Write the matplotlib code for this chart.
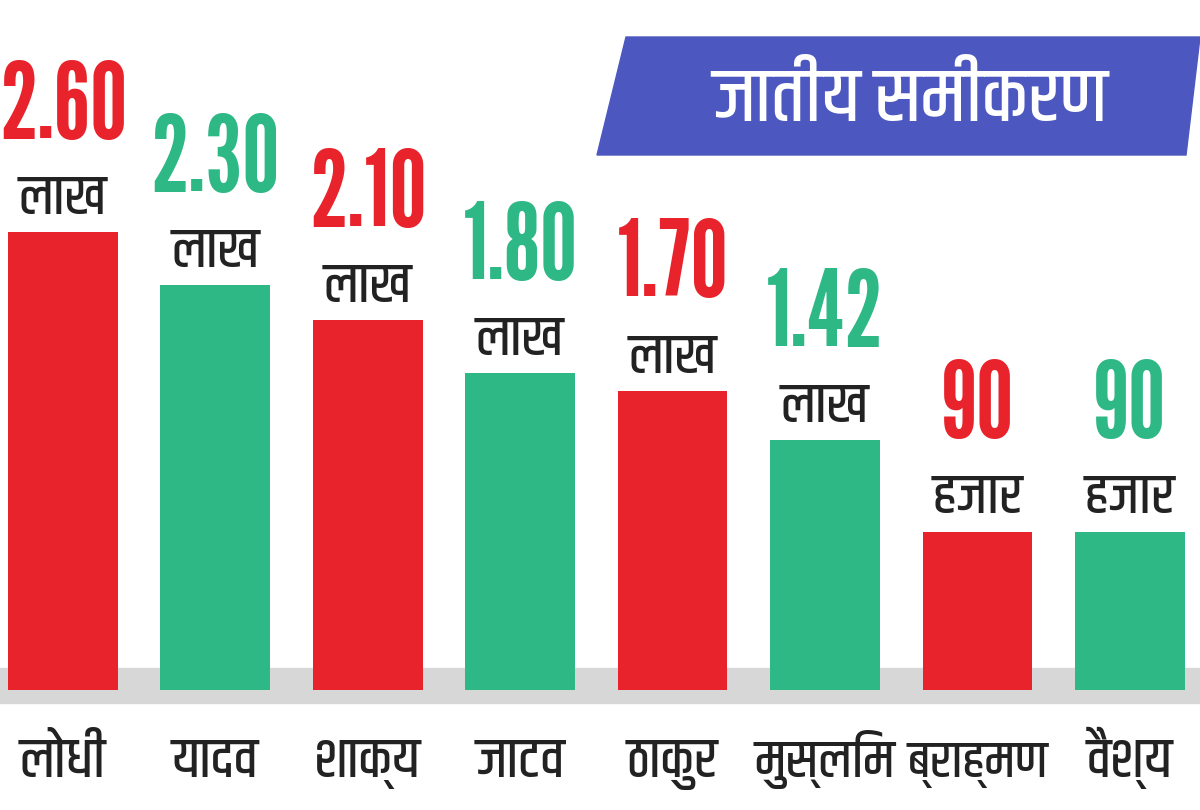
import matplotlib
matplotlib.use('Agg')
import matplotlib.pyplot as plt
from matplotlib.patches import Polygon

castes = ['लोधी', 'यादव', 'शाक्य', 'जाटव', 'ठाकुर', 'मुस्लिम', 'ब्राह्मण', 'वैश्य']
values = [2.60, 2.30, 2.10, 1.80, 1.70, 1.42, 0.90, 0.90]  # in lakh
value_text = ['2.60', '2.30', '2.10', '1.80', '1.70', '1.42', '90', '90']
unit_text = ['लाख', 'लाख', 'लाख', 'लाख', 'लाख', 'लाख', 'हजार', 'हजार']
title = 'जातीय समीकरण'

RED = '#e9232b'
GREEN = '#2eb886'
colors = [RED if i % 2 == 0 else GREEN for i in range(len(values))]
DEVA = ['Khand', 'Noto Sans Devanagari', 'DejaVu Sans']
NUM = ['League Gothic', 'Bebas Neue', 'Khand', 'DejaVu Sans']

fig = plt.figure(figsize=(12, 8.1), dpi=100)
ax = fig.add_axes([0, 0, 1, 1])
ax.set_xlim(-0.413, 7.46)
ax.set_ylim(-0.682, 3.92)
ax.axis('off')

# grey floor strip behind the bars
ax.axhspan(-13 / 176, 22 / 176, color='#d7d7d7', zorder=1)

x = range(len(values))
ax.bar(x, values, width=0.72, color=colors, zorder=2)

cat_texts = []
for i, v in enumerate(values):
    ax.annotate(unit_text[i], (i, v), xytext=(0, 13), textcoords='offset points',
                ha='center', va='baseline', fontsize=40, family=DEVA,
                weight='medium', color='#222222')
    ax.annotate(value_text[i], (i, v), xytext=(0, 68), textcoords='offset points',
                ha='center', va='baseline', fontsize=76, family=NUM,
                color=colors[i])
    t = ax.annotate(castes[i], (i, 0), xytext=(0, -63), textcoords='offset points',
                    ha='center', va='baseline', fontsize=40, family=DEVA,
                    weight='medium', color='#222222')
    cat_texts.append(t)

# shrink category names that would run into their neighbours
renderer = fig.canvas.get_renderer()
for t in cat_texts:
    w = t.get_window_extent(renderer).width
    if w > 140:
        t.set_fontsize(40 * 140 / w)

# title banner
W, H = 1200, 810
pts = [(626, 37), (1200, 37), (1186, 155), (597, 155)]
fig.patches.append(Polygon([(px / W, 1 - py / H) for px, py in pts], closed=True,
                           transform=fig.transFigure, color='#4c58bf', zorder=1))
fig.text(910 / W, 1 - 121 / H, title, ha='center', va='baseline', fontsize=55,
         family=DEVA, weight='medium', color='white')

fig.savefig('out.png', dpi=100, facecolor='white')
